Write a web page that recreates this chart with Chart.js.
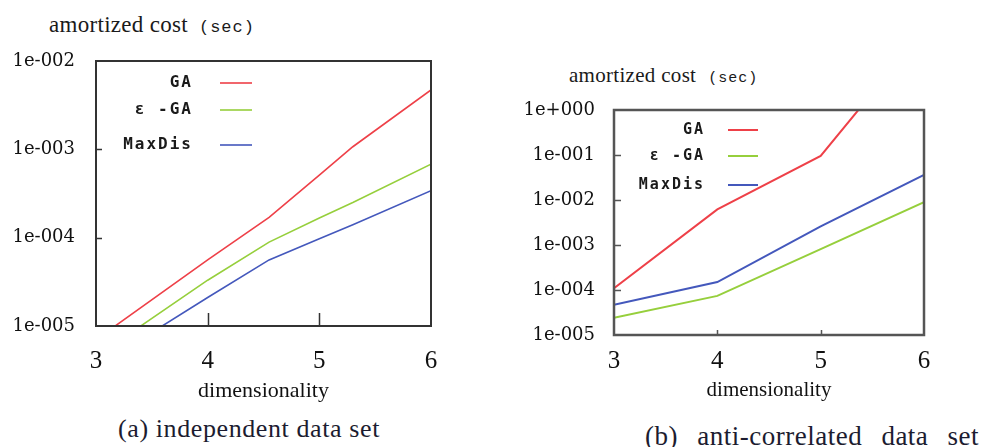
<!DOCTYPE html>
<html>
<head>
<meta charset="utf-8">
<script src="https://cdn.jsdelivr.net/npm/chart.js@4.4.1/dist/chart.umd.min.js"></script>
<style>
  html, body { margin:0; padding:0; background:#fff; }
  body { width:984px; height:447px; position:relative; overflow:hidden; }
  .wrap { position:absolute; }
  .ttl { position:absolute; font-family:"Liberation Serif", "Times New Roman", serif; color:#1a1a1a; white-space:nowrap; }
  .ttl .mono { font-family:"Liberation Mono", "DejaVu Sans Mono", monospace; letter-spacing:1px; }
  .cap { position:absolute; font-family:"Liberation Serif", "Times New Roman", serif; color:#1c1c30; white-space:nowrap; }
</style>
</head>
<body>
<div class="ttl" style="left:49px; top:11px; font-size:23px; line-height:27px; letter-spacing:0.3px;">amortized cost<span class="mono" style="font-size:17px; margin-left:11px;">(sec)</span></div>
<div class="ttl" style="left:569px; top:63px; font-size:21px; line-height:25px; letter-spacing:0.3px;">amortized cost<span class="mono" style="font-size:15px; margin-left:12px;">(sec)</span></div>

<div class="wrap" style="left:0; top:0; width:470px; height:410px;"><canvas id="ca"></canvas></div>
<div class="wrap" style="left:500px; top:50px; width:484px; height:360px;"><canvas id="cb"></canvas></div>

<div class="cap" style="left:118px; top:414px; font-size:26px; line-height:30px; letter-spacing:0.6px;">(a) independent data set</div>
<div class="cap" style="left:645px; top:421px; font-size:27px; line-height:30px; letter-spacing:0.5px; word-spacing:12px;">(b) anti-correlated data set</div>

<script>
// ---------- data ----------
const seriesNames = ['GA', 'ε -GA', 'MaxDis'];
const seriesColors = ['#ee4048', '#96cf3c', '#4458bc'];

// (a) independent data set
const dimsA   = [3, 4, 4.55, 5, 5.3, 6];
const gaA     = [7.0e-6, 5.6e-5, 1.7e-4, 5.1e-4, 1.07e-3, 4.7e-3];
const epsGaA  = [4.5e-6, 3.3e-5, 8.9e-5, 1.67e-4, 2.5e-4, 6.8e-4];
const maxDisA = [3.4e-6, 2.1e-5, 5.6e-5, 9.7e-5, 1.4e-4, 3.4e-4];
const yTicksA  = [1e-5, 1e-4, 1e-3, 1e-2];
const yLabelsA = ['1e-005', '1e-004', '1e-003', '1e-002'];

// (b) anti-correlated data set
const dimsB   = [3, 4, 5, 6];
const gaB     = [1.1e-4, 6.2e-3, 9.5e-2, 60];
const epsGaB  = [2.4e-5, 7.4e-5, 8.1e-4, 9.0e-3];
const maxDisB = [4.7e-5, 1.5e-4, 2.6e-3, 3.6e-2];
const yTicksB  = [1e-5, 1e-4, 1e-3, 1e-2, 1e-1, 1];
const yLabelsB = ['1e-005', '1e-004', '1e-003', '1e-002', '1e-001', '1e+000'];

const xTicks  = [3, 4, 5, 6];
const xLabels = ['3', '4', '5', '6'];

// ---------- plugins ----------
const frameAndLegend = {
  id: 'frameLegend',
  afterDatasetsDraw(chart, args, o) {
    const ctx = chart.ctx, a = chart.chartArea;
    const xs = chart.scales.x, ys = chart.scales.y;
    ctx.save();
    // inner tick marks
    ctx.strokeStyle = o.frameColor;
    ctx.lineWidth = 1.5;
    ctx.beginPath();
    ys.ticks.forEach((t, i) => {
      if (i === 0 || i === ys.ticks.length - 1) return;
      const py = Math.round(ys.getPixelForValue(t.value)) + 0.5;
      ctx.moveTo(a.left, py); ctx.lineTo(a.left + o.yTickLen, py);
    });
    xs.ticks.forEach((t, i) => {
      if (i === 0 || i === xs.ticks.length - 1) return;
      const px = Math.round(xs.getPixelForValue(t.value)) + 0.5;
      ctx.moveTo(px, a.bottom); ctx.lineTo(px, a.bottom - o.xTickLen);
    });
    ctx.stroke();
    // frame
    ctx.lineWidth = o.frameWidth;
    ctx.strokeRect(a.left, a.top, a.right - a.left, a.bottom - a.top);
    // legend inside plot
    ctx.font = o.font;
    ctx.letterSpacing = o.letterSpacing;
    ctx.textAlign = 'right';
    ctx.textBaseline = 'middle';
    chart.data.datasets.forEach((ds, i) => {
      const y = a.top + o.rows[i];
      ctx.fillStyle = '#1a1a1a';
      ctx.fillText(ds.label, a.left + o.textRight, y);
      ctx.strokeStyle = ds.borderColor;
      ctx.lineWidth = ds.borderWidth;
      ctx.beginPath();
      ctx.moveTo(a.left + o.lineStart, y);
      ctx.lineTo(a.left + o.lineEnd, y);
      ctx.stroke();
    });
    ctx.restore();
  }
};

function buildChart(id, dims, series, yMin, yMax, yTicks, yLabels, geom) {
  const datasets = series.map((vals, i) => ({
    label: seriesNames[i],
    data: dims.map((d, j) => ({ x: d, y: vals[j] })),
    borderColor: seriesColors[i],
    borderWidth: geom.lineWidth,
    pointRadius: 0,
    tension: 0,
    fill: false,
    clip: 0
  }));
  return new Chart(document.getElementById(id), {
    type: 'line',
    data: { datasets },
    plugins: [frameAndLegend],
    options: {
      responsive: true,
      maintainAspectRatio: false,
      animation: false,
      events: [],
      layout: { padding: { left: 0, top: geom.top, right: geom.right, bottom: 0 } },
      plugins: {
        legend: { display: false },
        tooltip: { enabled: false },
        title: { display: false },
        frameLegend: geom.legend
      },
      scales: {
        x: {
          type: 'linear', min: 3, max: 6,
          afterBuildTicks: s => { s.ticks = xTicks.map(v => ({ value: v })); },
          afterFit: s => { s.height = geom.xHeight; },
          ticks: {
            callback: (v, i) => xLabels[i],
            font: { family: '"Liberation Serif", serif', size: 25 },
            color: '#111', padding: geom.xPad, maxRotation: 0, autoSkip: false
          },
          grid: { display: false, drawTicks: false },
          border: { display: false },
          title: {
            display: true, text: 'dimensionality', color: '#111',
            font: { family: '"Liberation Serif", serif', size: geom.xTitleSize },
            padding: { top: 0, bottom: geom.xTitleBottom }
          }
        },
        y: {
          type: 'logarithmic', min: yMin, max: yMax,
          afterBuildTicks: s => { s.ticks = yTicks.map(v => ({ value: v })); },
          afterFit: s => { s.width = geom.yWidth; },
          ticks: {
            callback: (v, i) => yLabels[i],
            font: { family: '"DejaVu Serif", serif', size: 18 },
            color: '#111', padding: geom.yPad, autoSkip: false
          },
          grid: { display: false, drawTicks: false },
          border: { display: false }
        }
      }
    }
  });
}

buildChart('ca', dimsA, [gaA, epsGaA, maxDisA], 1e-5, 1e-2, yTicksA, yLabelsA, {
  top: 61, right: 39, xHeight: 84, yWidth: 96, xPad: 20, yPad: 21,
  xTitleSize: 22, xTitleBottom: 6, lineWidth: 1.6,
  legend: { frameColor: '#333', frameWidth: 2, yTickLen: 6, xTickLen: 13,
            font: 'bold 16px "DejaVu Sans Mono"', letterSpacing: '2px',
            textRight: 97, lineStart: 124, lineEnd: 156, rows: [22, 49, 84] }
});

buildChart('cb', dimsB, [gaB, epsGaB, maxDisB], 1e-5, 1, yTicksB, yLabelsB, {
  top: 60, right: 60, xHeight: 75, yWidth: 114, xPad: 11, yPad: 19,
  xTitleSize: 21, xTitleBottom: 7, lineWidth: 2,
  legend: { frameColor: '#555', frameWidth: 2.5, yTickLen: 7, xTickLen: 5,
            font: 'bold 15px "DejaVu Sans Mono"', letterSpacing: '2px',
            textRight: 91, lineStart: 114, lineEnd: 144, rows: [20, 46, 75] }
});
</script>
</body>
</html>
